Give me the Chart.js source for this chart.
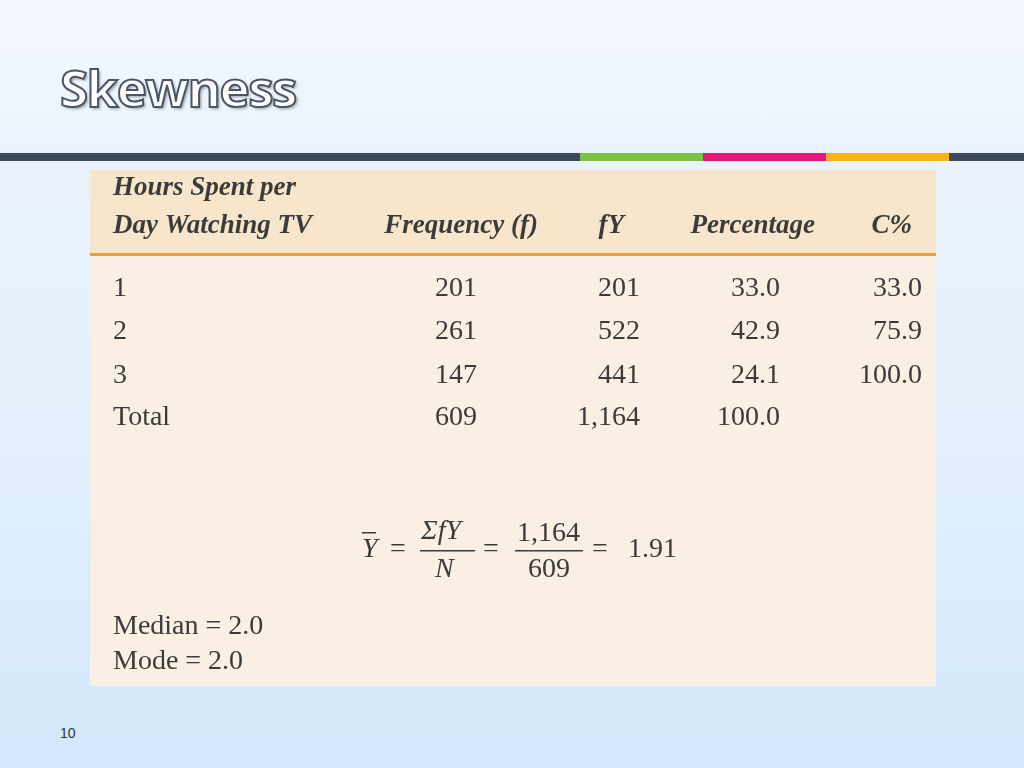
<!DOCTYPE html>
<html>
<head>
<meta charset="utf-8">
<script src="https://cdn.jsdelivr.net/npm/chart.js@4"></script>
<style>
  html, body { margin: 0; padding: 0; }
  body {
    width: 1024px; height: 768px; position: relative; overflow: hidden;
    background: linear-gradient(#f3f8fd 0px, #eaf3fc 150px, #e4f0fc 400px, #d3e8fd 768px);
    font-family: "Open Sans", sans-serif;
  }
  #title {
    position: absolute; left: 60px; top: 52px; font-size: 51px; font-weight: bold;
    color: #fff; font-family: "Open Sans", sans-serif; letter-spacing: -1.5px;
    -webkit-text-stroke: 2px #4a5566;
    text-shadow: 2px 2px 3px rgba(0,0,0,0.35);
  }
  .bar { position: absolute; top: 153px; height: 8px; }
  #panel { position: absolute; left: 90px; top: 170px; }
  #page { position: absolute; left: 60px; top: 725px; font-size: 14px; color: #333; font-family: "Liberation Sans", sans-serif; }
</style>
</head>
<body>
<div id="title">Skewness</div>
<div class="bar" style="left:0;width:1024px;background:#3e4a5b"></div>
<div class="bar" style="left:580px;width:123px;background:#7cc242"></div>
<div class="bar" style="left:703px;width:123px;background:#e5177b"></div>
<div class="bar" style="left:826px;width:123px;background:#fbb616"></div>
<canvas id="panel" width="846" height="516"></canvas>
<div id="page">10</div>
<script>
// table data
const hours       = ["1", "2", "3", "Total"];
const frequency   = ["201", "261", "147", "609"];
const fY          = ["201", "522", "441", "1,164"];
const percentage  = ["33.0", "42.9", "24.1", "100.0"];
const cumPercent  = ["33.0", "75.9", "100.0", ""];
const columns     = [hours, frequency, fY, percentage, cumPercent];
const notes       = ["Median = 2.0", "Mode = 2.0"];

// layout (panel units = pixels in the panel)
const colX     = [23, 387, 550, 690, 832];   // left for first, right edge for the rest
const rowY     = [119, 162, 206, 248];
const noteY    = [457, 492];

const SERIF = '"Liberation Serif", "DejaVu Serif", serif';
const INK = "#3b3b3b";

const tablePlugin = {
  id: "table",
  beforeDraw(chart) {
    const c = chart.ctx, x = chart.scales.x, y = chart.scales.y;
    const px = v => x.getPixelForValue(v), py = v => y.getPixelForValue(v);
    c.save();
    c.fillStyle = "#f9efe2";
    c.fillRect(px(0), py(0), px(846) - px(0), py(516) - py(0));
    c.fillStyle = "#f7e6cb";
    c.fillRect(px(0), py(0), px(846) - px(0), py(83) - py(0));
    c.fillStyle = "#e9a23b";
    c.fillRect(px(0), py(83), px(846) - px(0), 3);
    c.restore();
  },
  afterDraw(chart) {
    const c = chart.ctx, x = chart.scales.x, y = chart.scales.y;
    const px = v => x.getPixelForValue(v), py = v => y.getPixelForValue(v);
    c.save();
    c.fillStyle = INK;
    c.textBaseline = "middle";
    // headers
    c.font = "italic bold 27px " + SERIF;
    c.textAlign = "left";
    c.fillText("Hours Spent per", px(23), py(18));
    c.fillText("Day Watching TV", px(23), py(56));
    c.textAlign = "right";
    c.fillText("Frequency (f)", px(448), py(56));
    c.fillText("fY", px(534), py(56));
    c.fillText("Percentage", px(725), py(56));
    c.fillText("C%", px(822), py(56));
    // body
    c.font = "28px " + SERIF;
    columns.forEach((col, ci) => {
      c.textAlign = ci === 0 ? "left" : "right";
      col.forEach((v, ri) => c.fillText(v, px(colX[ci]), py(rowY[ri])));
    });
    // formula
    const fy = 380;
    c.font = "italic 28px " + SERIF;
    c.textAlign = "left";
    c.fillText("Y", px(272), py(fy));
    c.fillRect(px(272), py(fy - 18), 14, 1.5);
    c.font = "28px " + SERIF;
    c.fillText("=", px(300), py(fy));
    c.font = "italic 28px " + SERIF;
    c.fillText("\u03A3fY", px(331), py(fy - 18));
    c.fillText("N", px(345), py(fy + 20));
    c.fillRect(px(330), py(fy), 55, 1.5);
    c.font = "28px " + SERIF;
    c.fillText("=", px(393), py(fy));
    c.fillText("1,164", px(427), py(fy - 16));
    c.fillText("609", px(438), py(fy + 20));
    c.fillRect(px(425), py(fy), 68, 1.5);
    c.fillText("=", px(502), py(fy));
    c.fillText("1.91", px(538), py(fy));
    // notes
    notes.forEach((n, i) => c.fillText(n, px(23), py(noteY[i])));
    c.restore();
  }
};

new Chart(document.getElementById("panel"), {
  type: "scatter",
  data: { datasets: [{ data: [] }] },
  options: {
    responsive: false,
    animation: false,
    layout: { padding: 0 },
    plugins: { legend: { display: false }, tooltip: { enabled: false } },
    scales: {
      x: { type: "linear", min: 0, max: 846, display: false },
      y: { type: "linear", min: 0, max: 516, reverse: true, display: false }
    }
  },
  plugins: [tablePlugin]
});
</script>
</body>
</html>
